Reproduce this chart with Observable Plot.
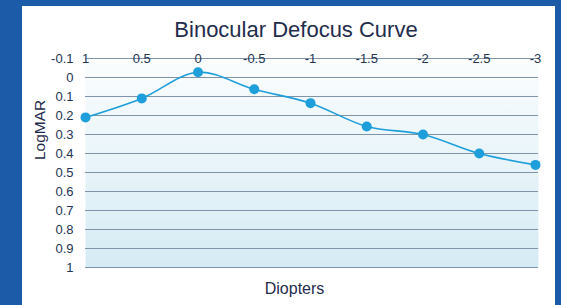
<!DOCTYPE html>
<html><head><meta charset="utf-8">
<script src="https://cdn.jsdelivr.net/npm/d3@7"></script>
<script src="https://cdn.jsdelivr.net/npm/@observablehq/plot@0.6"></script>
<style>
html,body{margin:0;padding:0;width:561px;height:305px;overflow:hidden;background:#1b5ba8;}
#panel{position:absolute;left:22px;top:6px;width:533px;height:299px;background:#fff;}
#chart{position:absolute;left:0;top:0;}
</style></head><body>
<div id="panel"><div id="chart"></div></div>
<script>
const diopters = [1, 0.5, 0, -0.5, -1, -1.5, -2, -2.5, -3];
const logMAR = [0.21, 0.11, -0.028, 0.062, 0.135, 0.258, 0.30, 0.40, 0.46];
const xTicks = [1, 0.5, 0, -0.5, -1, -1.5, -2, -2.5, -3];
const yTicks = [-0.1, 0, 0.1, 0.2, 0.3, 0.4, 0.5, 0.6, 0.7, 0.8, 0.9, 1];
const titleText = "Binocular Defocus Curve";
const xLabel = "Diopters";
const yLabel = "LogMAR";

const data = diopters.map((d, i) => ({d, v: logMAR[i]}));
const fmt = v => String(Math.round(v * 10) / 10).replace("\u2212", "-");
const textColor = "#233455";

const svg = Plot.plot({
  width: 533,
  height: 299,
  marginLeft: 63,
  marginRight: 20,
  marginTop: 52,
  marginBottom: 38,
  style: {fontFamily: "Liberation Sans, Arial, sans-serif", fontSize: "13px", color: textColor, background: "transparent", overflow: "visible"},
  x: {domain: [1, -3], axis: null},
  y: {domain: [-0.1, 1], reverse: true, axis: null},
  marks: [
    Plot.frame({fill: "url(#bgGrad)", stroke: "none", insetRight: -3}),
    Plot.ruleY(yTicks, {stroke: "#7f94a8", strokeWidth: 1.2, insetRight: -3}),
    Plot.axisX({anchor: "top", ticks: xTicks, tickSize: 0, tickPadding: -4, tickFormat: fmt, fontSize: 13, fill: textColor, label: null}),
    Plot.axisY({anchor: "left", ticks: yTicks, tickSize: 0, tickPadding: 12, tickFormat: fmt, fontSize: 13, fill: textColor, label: null}),
    Plot.line(data, {x: "d", y: "v", curve: "catmull-rom", stroke: "#1e9fdb", strokeWidth: 1.6}),
    Plot.dot(data, {x: "d", y: "v", r: 5, fill: "#1e9fdb", stroke: "none"}),
    Plot.text([titleText], {frameAnchor: "top", lineAnchor: "bottom", dy: -22, dx: -14.5, fontSize: 22, fill: "#1f2c4c"}),
    Plot.text([xLabel], {frameAnchor: "bottom", lineAnchor: "bottom", dy: 26, dx: -16, fontSize: 16, fill: "#1f2c4c"}),
    Plot.text([yLabel], {frameAnchor: "left", lineAnchor: "bottom", rotate: -90, dx: -40.5, dy: -3, fontSize: 15.5, fill: "#1f2c4c"})
  ]
});

const defs = d3.select(svg).insert("defs", ":first-child");
const g = defs.append("linearGradient").attr("id", "bgGrad").attr("x1", 0).attr("y1", 0).attr("x2", 0).attr("y2", 1);
g.append("stop").attr("offset", "0%").attr("stop-color", "#fbfdfe");
g.append("stop").attr("offset", "100%").attr("stop-color", "#d5ebf4");

document.getElementById("chart").appendChild(svg);
</script>
</body></html>
